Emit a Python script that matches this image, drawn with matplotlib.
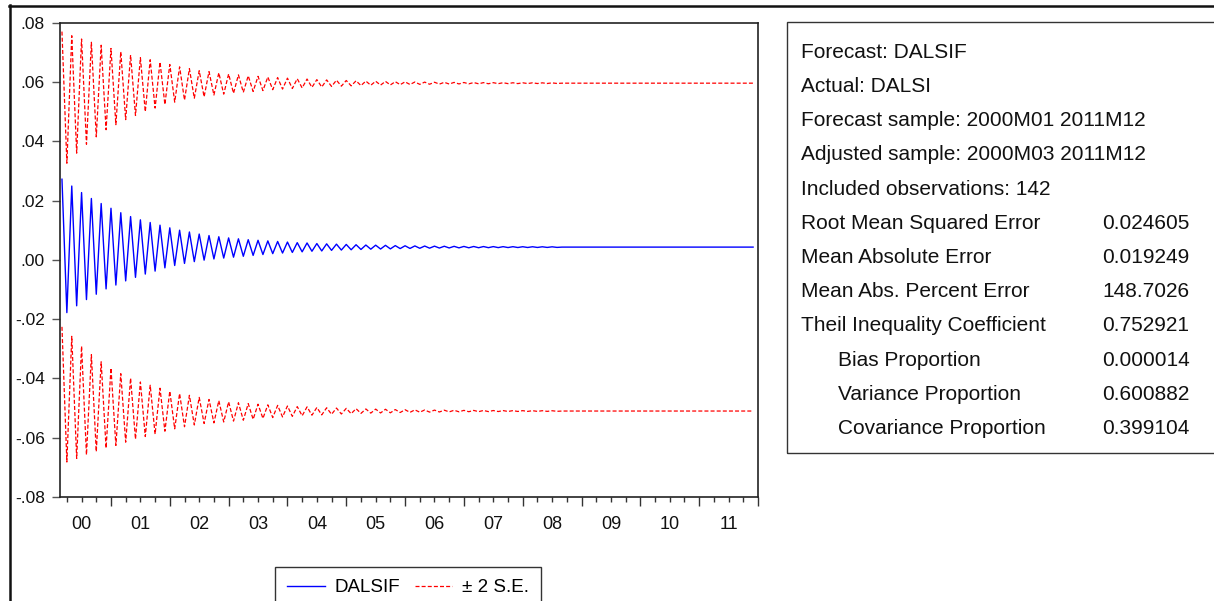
import numpy as np
import pandas as pd
import matplotlib
matplotlib.use('Agg')
import matplotlib.pyplot as plt
from matplotlib.lines import Line2D
from matplotlib.patches import Rectangle

plt.rcParams['font.family'] = ['Liberation Sans', 'DejaVu Sans']

# dynamic forecast of DALSI, 2000M03 - 2011M12 (142 obs)
periods = pd.period_range('2000-03', '2011-12', freq='M')

forecast = [
    0.0272, -0.0178, 0.0249, -0.0155, 0.0227, -0.0134, 0.0207, -0.0116, 0.0190, -0.0098,
    0.0174, -0.0085, 0.0159, -0.0071, 0.0146, -0.0059, 0.0135, -0.0048, 0.0126, -0.0038,
    0.0117, -0.0027, 0.0108, -0.0019, 0.0100, -0.0012, 0.0094, -0.0006, 0.0087, -0.0001,
    0.0082, 0.0003, 0.0078, 0.0006, 0.0074, 0.0009, 0.0071, 0.0012, 0.0068, 0.0015,
    0.0066, 0.0018, 0.0064, 0.0021, 0.0062, 0.0023, 0.0060, 0.0025, 0.0058, 0.0027,
    0.0057, 0.0029, 0.0055, 0.0030, 0.0054, 0.0032, 0.0053, 0.0033, 0.0052, 0.0034,
    0.0051, 0.0035, 0.0050, 0.0036, 0.00495, 0.00365, 0.0049, 0.0037, 0.0048, 0.0038,
    0.00475, 0.00385, 0.0047, 0.0039, 0.00466, 0.00394, 0.00462, 0.00398, 0.00459, 0.00401,
    0.00456, 0.00404, 0.00453, 0.00407, 0.00451, 0.00409, 0.00449, 0.00411, 0.00447, 0.00413,
    0.00445, 0.00415, 0.00444, 0.00416, 0.00443, 0.00417, 0.00442, 0.00418, 0.00441, 0.00419,
    0.0044, 0.0042,
] + [0.0043] * 40

# forecast standard errors
se = [
    0.0249, 0.0252, 0.02535, 0.02575, 0.0259, 0.0262, 0.02635, 0.02655, 0.0267, 0.02685,
    0.02695, 0.02705, 0.02715, 0.0272, 0.02725, 0.0273, 0.02735, 0.0274, 0.02745, 0.0275,
    0.0275,
] + [0.02755] * 9 + [0.02765] * 112

ytick_vals = [-0.08, -0.06, -0.04, -0.02, 0.0, 0.02, 0.04, 0.06, 0.08]
ytick_labels = ['-.08', '-.06', '-.04', '-.02', '.00', '.02', '.04', '.06', '.08']
year_labels = ['00', '01', '02', '03', '04', '05', '06', '07', '08', '09', '10', '11']

stat_labels = [
    'Forecast: DALSIF',
    'Actual: DALSI',
    'Forecast sample: 2000M01 2011M12',
    'Adjusted sample: 2000M03 2011M12',
    'Included observations: 142',
    'Root Mean Squared Error',
    'Mean Absolute Error',
    'Mean Abs. Percent Error',
    'Theil Inequality Coefficient',
    'Bias Proportion',
    'Variance Proportion',
    'Covariance Proportion',
]
stat_values = ['', '', '', '', '', '0.024605', '0.019249', '148.7026',
               '0.752921', '0.000014', '0.600882', '0.399104']
stat_indent = [False] * 9 + [True] * 3

W, H = 1214, 601


def fx(px):
    return px / W


def fy(py):
    return 1 - py / H


fc = np.array(forecast)
band = 2 * np.array(se)
# months counted from 2000M01
x = (periods.year - 2000) * 12 + periods.month - 1

fig = plt.figure(figsize=(W / 100, H / 100), dpi=100)
ax = fig.add_axes([fx(60), fy(497), fx(758) - fx(60), fy(22.7) - fy(497)])

dash = (0, (3.2, 1.7))
l_fc, = ax.plot(x, fc, color='#0000FF', lw=1.0)
l_se, = ax.plot(x, fc + band, color='#FF0000', lw=0.9, ls=dash)
ax.plot(x, fc - band, color='#FF0000', lw=0.9, ls=dash)

ax.set_xlim(1.6, 144)
ax.set_ylim(-0.08, 0.08)
ax.set_yticks(ytick_vals)
ax.set_yticklabels(ytick_labels)
ax.tick_params(axis='y', length=6, width=1, color='#555', pad=5, labelsize=12.5,
               labelcolor='#111')

# year boundaries as long ticks, quarters as short ones
ax.set_xticks(np.arange(12, 145, 12))
ax.set_xticks(np.arange(3, 145, 3), minor=True)
ax.tick_params(axis='x', which='major', length=6.5, width=1, color='#333', labelbottom=False)
ax.tick_params(axis='x', which='minor', length=3.6, width=1, color='#333')

# year labels centred in each year
sec = ax.secondary_xaxis('bottom')
sec.set_xticks(np.arange(len(year_labels)) * 12 + 6)
sec.set_xticklabels(year_labels)
sec.tick_params(length=0, pad=13.5, labelsize=13, labelcolor='#111')
sec.spines['bottom'].set_visible(False)

for s in ax.spines.values():
    s.set_color('#222')
    s.set_linewidth(1.2)

# statistics table
fig.add_artist(Rectangle((fx(787), fy(453)), fx(1240) - fx(787), fy(22) - fy(453),
                         transform=fig.transFigure, fill=False, ec='#333', lw=1.0))
for i, (lab, val, ind) in enumerate(zip(stat_labels, stat_values, stat_indent)):
    yb = fy(57.8 + 34.2 * i)
    fig.text(fx(838 if ind else 801), yb, lab, fontsize=15, va='baseline', color='#111')
    if val:
        fig.text(fx(1146), yb, val, fontsize=15, va='baseline', ha='center', color='#111')

leg = fig.legend([l_fc, l_se], ['DALSIF', '± 2 S.E.'], loc='upper left',
                 bbox_to_anchor=(fx(275), fy(567)), ncol=2, fontsize=13.5,
                 frameon=True, fancybox=False, edgecolor='#333', framealpha=1,
                 borderaxespad=0, borderpad=0.65, handlelength=2.0,
                 handletextpad=0.5, columnspacing=0.8)
leg.get_frame().set_linewidth(1.0)

# outer frame of the graph window
fig.add_artist(Line2D([fx(9), 1], [fy(6), fy(6)], transform=fig.transFigure,
                      color='#111', lw=1.8))
fig.add_artist(Line2D([fx(9.6), fx(9.6)], [fy(5), 0], transform=fig.transFigure,
                      color='#111', lw=1.8))

fig.savefig('out.png', dpi=100, facecolor='white')
